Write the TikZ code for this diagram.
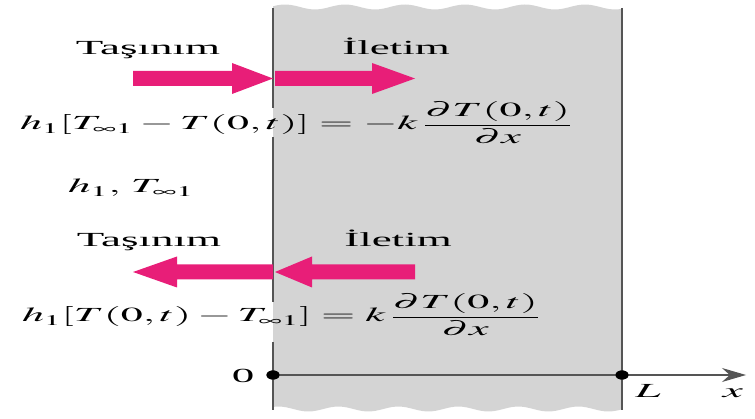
\documentclass[tikz,border=0pt]{standalone}
\usepackage{mathptmx}
\usepackage[no-math]{fontspec}
\setmainfont{Liberation Serif}
\usetikzlibrary{arrows.meta,shapes.geometric}
\definecolor{slabgray}{RGB}{212,212,212}
\definecolor{wallgray}{RGB}{85,85,85}
\definecolor{heatpink}{RGB}{232,30,120}
\newcommand{\wide}[1]{\scalebox{2.25}[1]{#1}}
\newcommand{\wideq}[1]{\scalebox{2.2}[1]{#1}}
\tikzset{
  txt/.style={inner sep=0pt, font=\fontsize{20}{24}\selectfont},
  wall/.style={draw=wallgray, line width=2.6pt},
  axisline/.style={draw=wallgray, line width=1.3pt},
  dotnode/.style={ellipse, fill=black, inner sep=0pt, minimum width=13pt, minimum height=9pt},
  blockarrow/.style={fill=heatpink},
}
\begin{document}
\begin{tikzpicture}[x=1pt,y=-1pt]
\useasboundingbox (0,0) rectangle (755,419);
% slab
\fill[slabgray] plot[domain=273:622,samples=80] (\x,{7+2.5*sin(6*\x)})
  -- plot[domain=622:273,samples=80] (\x,{409+2.5*sin(6*\x+40)}) -- cycle;
% walls
\coordinate (w1) at (273,8);  \coordinate (w2) at (273,108);
\coordinate (w3) at (273,137); \coordinate (w4) at (273,302);
\coordinate (w5) at (273,342); \coordinate (w6) at (273,410);
\coordinate (r1) at (622,8);  \coordinate (r2) at (622,410);
\draw[wall] (w1) -- (w2) (w3) -- (w4) (w5) -- (w6) (r1) -- (r2);
% block arrows (top, pointing right)
\fill[blockarrow] (133,71) -- (232,71) -- (232,63) -- (273,78.5) -- (232,94) -- (232,86) -- (133,86) -- cycle;
\fill[blockarrow] (275,71) -- (372,71) -- (372,63) -- (415,78.5) -- (372,94) -- (372,86) -- (275,86) -- cycle;
% block arrows (bottom, pointing left)
\fill[blockarrow] (273,264.5) -- (177,264.5) -- (177,256.5) -- (133,272) -- (177,287.5) -- (177,279.5) -- (273,279.5) -- cycle;
\fill[blockarrow] (415,264.5) -- (312,264.5) -- (312,256.5) -- (275,272) -- (312,287.5) -- (312,279.5) -- (415,279.5) -- cycle;
% labels
\node[txt, anchor=base] (tas1) at (148,55) {\wide{Taşınım}};
\node[txt, anchor=base] (ile1) at (396,55) {\wide{İletim}};
\node[txt, anchor=base] (tas2) at (149,247) {\wide{Taşınım}};
\node[txt, anchor=base] (ile2) at (398,247) {\wide{İletim}};
\node[txt, anchor=base west] (eq1) at (20,130) {\wideq{$h_1[T_{\infty1}-T(0,t)]=-k\,\displaystyle\frac{\partial T(0,t)}{\partial x}$}};
\node[txt, anchor=base west] (hT) at (68,193) {\wide{$h_1,\,T_{\infty1}$}};
\node[txt, anchor=base west] (eq2) at (22,322) {\wideq{$h_1[T(0,t)-T_{\infty1}]=k\,\displaystyle\frac{\partial T(0,t)}{\partial x}$}};
% axis
\node[dotnode] (o) at (273,375) {};
\node[dotnode] (Ldot) at (622,375) {};
\coordinate (xend) at (746,375);
\draw[axisline, -{Stealth[length=24pt,width=14pt]}] (o.center) -- (xend);
\node[dotnode] at (o) {};
\node[dotnode] at (Ldot) {};
\node[txt, anchor=base] (zero) at (243,383) {\wide{0}};
\node[txt, anchor=base] (Llab) at (648,398) {\wide{$L$}};
\node[txt, anchor=base] (xlab) at (733,398) {\wide{$x$}};
\end{tikzpicture}
\end{document}
